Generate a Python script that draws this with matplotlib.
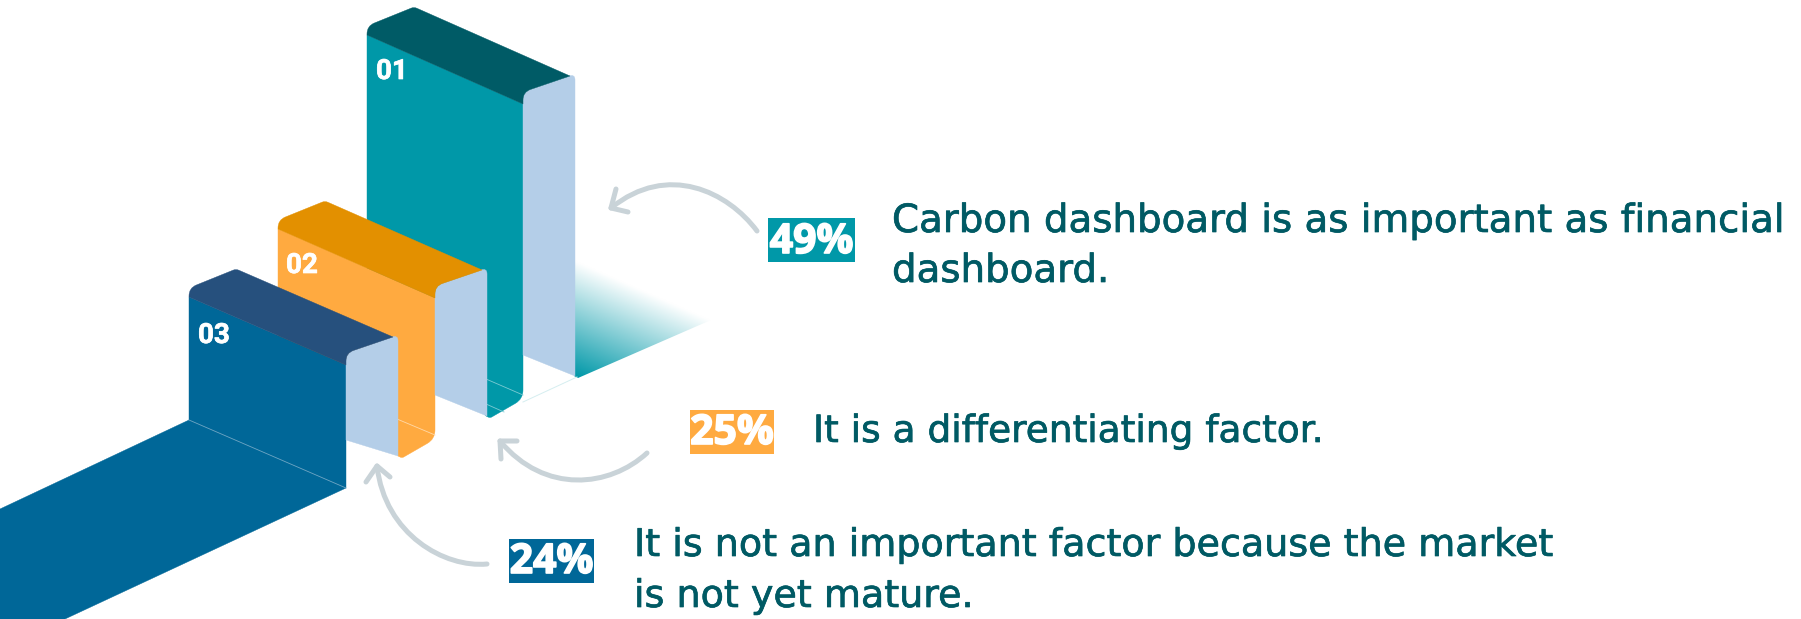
import numpy as np
import matplotlib
matplotlib.use('Agg')
import matplotlib.pyplot as plt
import matplotlib.patheffects as pe
from matplotlib.colors import LinearSegmentedColormap
from matplotlib.patches import PathPatch, Rectangle
from matplotlib.path import Path

# Chart content
bar_labels = ['01', '02', '03']
percent_values = [49, 25, 24]
statements = [
    ['Carbon dashboard is as important as financial', 'dashboard.'],
    ['It is a differentiating factor.'],
    ['It is not an important factor because the market', 'is not yet mature.'],
]

# Bar sizes (pixels)
front_heights = [291, 137, 123]
side_heights = [251, 97, 75]

# Colours
front_colors = ['#0098A8', '#FFAA40', '#006798']
top_colors = ['#005B66', '#E39000', '#26507D']
side_color = '#B4CEE8'
text_color = '#005A64'
arrow_color = '#C9D3D8'

fig = plt.figure(figsize=(18.01, 6.19), dpi=100)
ax = fig.add_axes([0, 0, 1, 1])
ax.set_xlim(0, 1801)
ax.set_ylim(619, 0)
ax.axis('off')


def rounded(points):
    # points are (x, y, radius), corners get cut with a quadratic curve
    verts, codes = [], []
    n = len(points)
    for i, (x, y, r) in enumerate(points):
        p = np.array([x, y], dtype=float)
        if r == 0:
            verts.append(p)
            codes.append(Path.LINETO)
            continue
        prev = np.array(points[i - 1][:2], dtype=float)
        nxt = np.array(points[(i + 1) % n][:2], dtype=float)
        a = p + (prev - p) / np.linalg.norm(prev - p) * r
        b = p + (nxt - p) / np.linalg.norm(nxt - p) * r
        verts += [a, p, b]
        codes += [Path.LINETO, Path.CURVE3, Path.CURVE3]
    codes[0] = Path.MOVETO
    verts.append(verts[0])
    codes.append(Path.CLOSEPOLY)
    return Path(verts, codes)


def fill(points, color, z):
    ax.add_patch(PathPatch(rounded(points), facecolor=color, edgecolor=color, lw=0.3, zorder=z))


def draw_bar(i, x0, y0, width, drop, z):
    xr = x0 + width
    yr = y0 + drop
    yb = yr + front_heights[i]
    ys = yr + side_heights[i]
    # front face
    if i < 2:
        front = [(x0, y0, 0), (xr, yr, 0), (xr, yb + 4, 9), (xr - 33, yb + 23, 2), (xr - 37, yb + 21, 0),
                 (xr - 88, ys, 0), (x0, ys - 30, 0)]
    else:
        # the last bar runs on as a floor strip off the canvas
        front = [(x0, y0, 0), (xr, yr, 0), (xr, yb, 0), (65, 619, 0), (0, 619, 0), (0, 509, 0), (x0, y0 + front_heights[i], 0)]
    fill(front, front_colors[i], z)
    # side face
    side_drop = 17 if i == 2 else 22
    fill([(xr, yr, 0), (xr, yr - 12, 8), (xr + 52, yr - 30, 6), (xr + 52, ys + side_drop - 1, 0), (xr, ys, 0)], side_color, z + 1)
    # top face
    fill([(x0, y0, 0), (x0, y0 - 9, 8), (x0 + 47, y0 - 28, 3), (xr + 47, yr - 28, 0), (xr, yr - 12, 8), (xr, yr, 0)],
         top_colors[i], z + 2)


# gradient shadow behind the tall bar
shadow = Path([(574, 260), (711, 320), (578, 378), (574, 376), (574, 260)])
gx, gy = np.meshgrid(np.linspace(574, 712, 200), np.linspace(258, 380, 200))
nx, ny = -60.0, 137.0
shade = ((gx - 574) * nx + (gy - 260) * ny) / ((578 - 574) * nx + (378 - 260) * ny)
cmap = LinearSegmentedColormap.from_list('fade', ['#FFFFFF', front_colors[0]])
im = ax.imshow(np.clip(shade, 0, 1), extent=(574, 712, 380, 258), origin='upper', cmap=cmap,
               vmin=0, vmax=1, aspect='auto', zorder=1)
im.set_clip_path(PathPatch(shadow, transform=ax.transData))
ax.set_xlim(0, 1801)
ax.set_ylim(619, 0)
ax.plot([523, 577], [402, 377], color='#D5EEF0', lw=0.7, zorder=1)

draw_bar(0, 367, 35, 156, 69, 2)
draw_bar(1, 278, 229, 157, 69, 6)
draw_bar(2, 189, 297, 157, 68, 10)

# thin fold lines
for (xa, ya, xb, yb, col, z) in [(486, 379, 523, 395, '#7CCBD3', 5), (486, 404, 504, 412, '#7CCBD3', 5),
                                 (397, 419, 435, 435, '#FFD9A8', 9), (189, 420, 346, 488, '#6FA6C4', 14)]:
    ax.plot([xa, xb], [ya, yb], color=col, lw=0.6, zorder=z)

# bar numbers
label_pos = [(376, 79), (286, 273), (198, 343)]
for lab, (x, y) in zip(bar_labels, label_pos):
    ax.text(x, y, lab, color='white', fontsize=20, fontweight='bold', family='Roboto',
            ha='left', va='baseline', zorder=20,
            path_effects=[pe.withStroke(linewidth=0.5, foreground='white')])

# curved arrows: tail, two controls, tip, then the two barbs of the head
arrows = [
    [(757, 231), (728, 192), (668, 162), (611, 208), (616, 189), (628, 212)],
    [(647, 453), (610, 487), (545, 495), (500, 441), (517, 441), (501, 459)],
    [(487, 564), (445, 568), (385, 535), (377, 466), (366, 482), (390, 477)],
]
for a in arrows:
    curve = Path(a[:4], [Path.MOVETO, Path.CURVE4, Path.CURVE4, Path.CURVE4])
    ax.add_patch(PathPatch(curve, facecolor='none', edgecolor=arrow_color, lw=3.6, capstyle='round', zorder=3))
    ax.plot([a[4][0], a[3][0], a[5][0]], [a[4][1], a[3][1], a[5][1]], color=arrow_color, lw=3.6,
            solid_capstyle='round', solid_joinstyle='round', zorder=3)

# percent boxes
boxes = [(768, 218, 87, 44), (690, 410, 84, 44), (509, 539, 85, 44)]
percent_base = [253, 444, 573]
for i, (x, y, w, h) in enumerate(boxes):
    ax.add_patch(Rectangle((x, y), w, h, facecolor=front_colors[i], edgecolor='none', zorder=4))
    ax.text(x + w / 2, percent_base[i], f'{percent_values[i]}%', color='white', fontsize=29.5,
            fontweight='bold', family='Open Sans', ha='center', va='baseline', zorder=5,
            path_effects=[pe.withStroke(linewidth=1.2, foreground='white')])

# statements
text_x = [892, 813, 634]
text_sizes = [27.9, 27, 27.4]
text_base = [[232, 282], [442], [556, 607]]
for i, lines in enumerate(statements):
    for line, y in zip(lines, text_base[i]):
        ax.text(text_x[i], y, line, color=text_color, fontsize=text_sizes[i], family='DejaVu Sans',
                ha='left', va='baseline', zorder=5,
                path_effects=[pe.withStroke(linewidth=0.5, foreground=text_color)])

fig.savefig('out.png', dpi=100, facecolor='white')
